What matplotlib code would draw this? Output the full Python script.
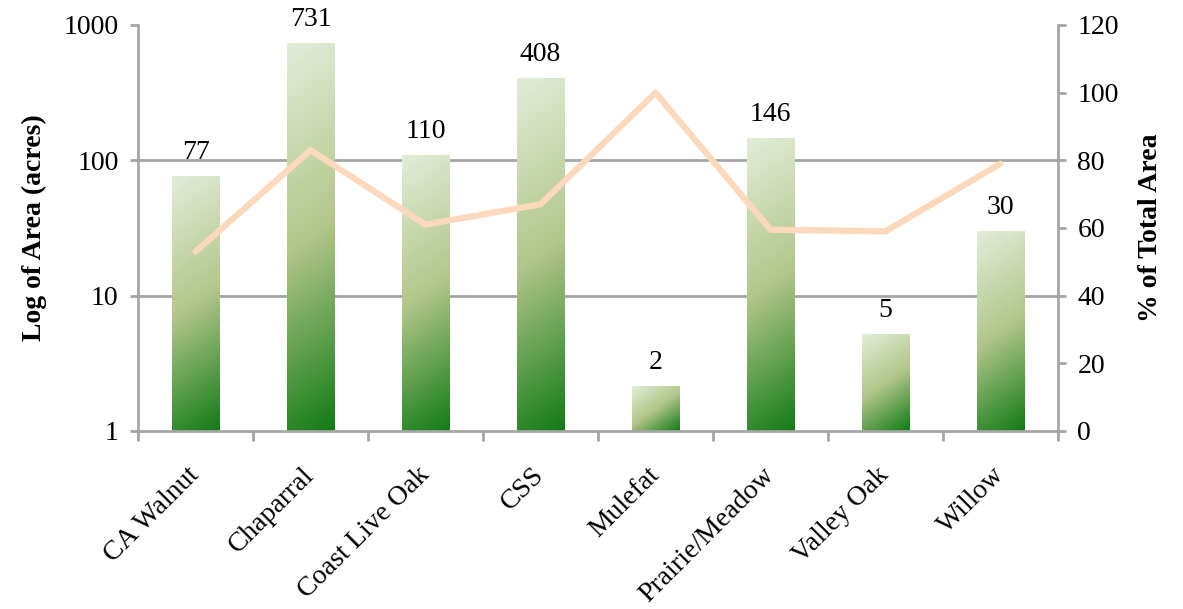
import numpy as np
import matplotlib
matplotlib.use('Agg')
import matplotlib.pyplot as plt
from matplotlib.colors import LinearSegmentedColormap

categories = ['CA Walnut', 'Chaparral', 'Coast Live Oak', 'CSS', 'Mulefat',
              'Prairie/Meadow', 'Valley Oak', 'Willow']
area_acres = [77, 731, 110, 408, 2.15, 146, 5.2, 30]
area_labels = ['77', '731', '110', '408', '2', '146', '5', '30']
pct_total = [53, 83, 61, 67, 100, 59.5, 59, 79]

plt.rcParams['font.family'] = ['Liberation Serif', 'DejaVu Serif']
plt.rcParams['font.size'] = 20

grey = '#A6A6A6'
green_map = LinearSegmentedColormap.from_list(
    'bar_grad', [(0, '#E2EDD8'), (0.5, '#B2C68A'), (1, '#127B16')])

fig = plt.figure(figsize=(11.83, 6.09), dpi=100)
ax = fig.add_axes([0.1167, 0.2923, 0.7776, 0.6667])
ax2 = ax.twinx()

x = np.arange(len(categories))
heights = [v - 1 for v in area_acres]
bars = ax.bar(x, heights, width=0.41, bottom=1, color='none', zorder=2)

ax.set_yscale('log')
ax.set_ylim(1, 1000)
ax.set_xlim(-0.5, len(categories) - 0.5)
ax.set_yticks([1, 10, 100, 1000])
ax.set_yticklabels(['1', '10', '100', '1000'])
ax.minorticks_off()

# gridlines (not at the top)
for g in [10, 100]:
    ax.axhline(g, color=grey, lw=2, zorder=1)

# gradient fills, one per bar, slanted: top-left light -> bottom-right dark
fig.canvas.draw()
to_axes = ax.transAxes.inverted()
k = 0.7
for b in bars:
    bb = b.get_window_extent()
    w = max(int(bb.width), 2)
    h = max(int(bb.height), 2)
    xx, yy = np.meshgrid(np.arange(w), np.arange(h))
    t = (xx * k + yy) / float((w - 1) * k + h - 1)
    (ax0, ay0), (ax1, ay1) = to_axes.transform([[bb.x0, bb.y0], [bb.x1, bb.y1]])
    im = ax.imshow(t, cmap=green_map, vmin=0, vmax=1, aspect='auto',
                   extent=(ax0, ax1, ay0, ay1), origin='upper',
                   transform=ax.transAxes, interpolation='bilinear', zorder=2)
    im.set_clip_path(b)

ax.set_xlim(-0.5, len(categories) - 0.5)
ax.set_ylim(1, 1000)

for xi, v, lab in zip(x, area_acres, area_labels):
    ax.annotate(lab, (xi, v), xytext=(0, 8), textcoords='offset points',
                ha='center', va='bottom', fontsize=20)

ax2.plot(x, pct_total, color='#FCD9BC', lw=4.5, solid_capstyle='round',
         solid_joinstyle='round', zorder=3)
ax2.set_ylim(0, 120)
ax2.set_yticks(range(0, 121, 20))

# spines and ticks
for a in (ax, ax2):
    for s in a.spines.values():
        s.set_visible(False)
for a, side in ((ax, 'left'), (ax, 'bottom'), (ax2, 'right')):
    a.spines[side].set_visible(True)
    a.spines[side].set_color(grey)
    a.spines[side].set_linewidth(2)

ax.tick_params(axis='y', color=grey, width=2, length=6, pad=8)
ax2.tick_params(axis='y', color=grey, width=2, length=6, pad=8)

ax.set_xticks(np.arange(len(categories) + 1) - 0.5, minor=True)
ax.set_xticks(x)
ax.set_xticklabels(categories, rotation=45, ha='right', va='center',
                   rotation_mode='anchor')
ax.tick_params(axis='x', which='major', length=0, pad=29)
ax.tick_params(axis='x', which='minor', color=grey, width=2, length=7)

ax.set_ylabel('Log of Area (acres)', fontweight='bold', fontsize=20, labelpad=12)
ax2.set_ylabel('% of Total Area', fontweight='bold', fontsize=20, labelpad=14)

fig.savefig('out.png', dpi=100)
